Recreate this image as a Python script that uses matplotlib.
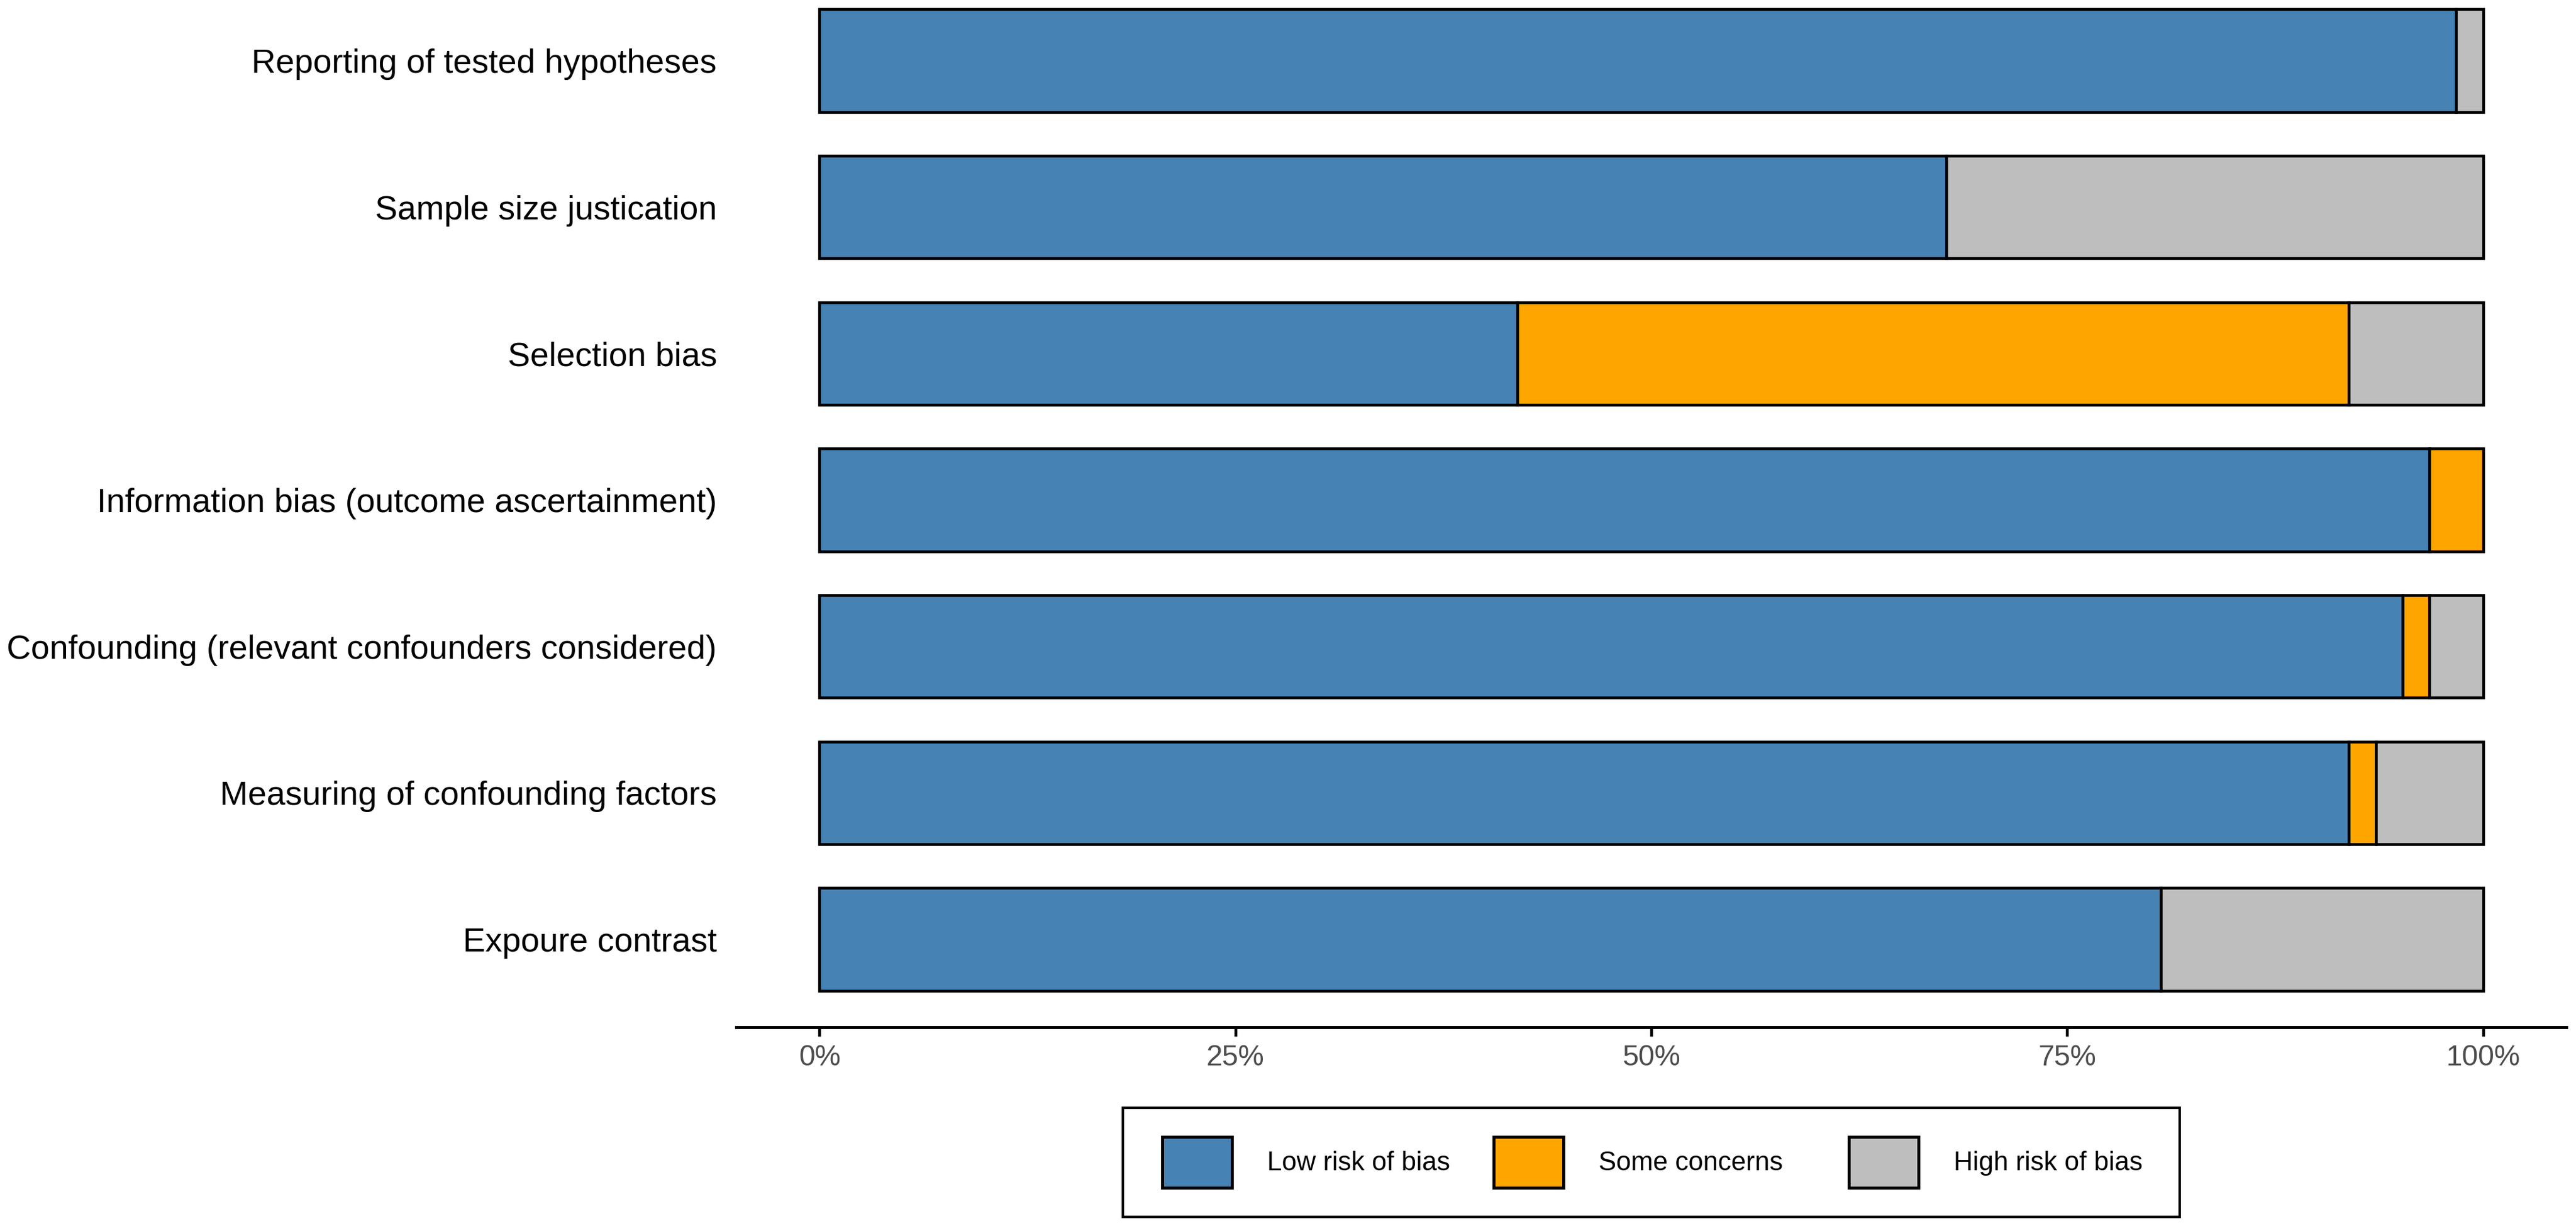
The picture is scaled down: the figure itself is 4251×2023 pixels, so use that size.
import matplotlib
matplotlib.use("Agg")
import matplotlib.pyplot as plt
from matplotlib.patches import Patch, Rectangle
import numpy as np

plt.rcParams['font.family'] = ['Liberation Sans', 'DejaVu Sans']

# ---- data (counts out of 62 studies) ----
domains = [
    "Reporting of tested hypotheses",
    "Sample size justication",
    "Selection bias",
    "Information bias (outcome ascertainment)",
    "Confounding (relevant confounders considered)",
    "Measuring of confounding factors",
    "Expoure contrast",
]
low_risk = [61, 42, 26, 60, 59, 57, 50]
some_concerns = [0, 0, 31, 2, 1, 1, 0]
high_risk = [1, 20, 5, 0, 2, 4, 12]
series_names = ["Low risk of bias", "Some concerns", "High risk of bias"]
series_colors = ["#4682B4", "#FFA500", "#BEBEBE"]
xtick_values = [0, 0.25, 0.5, 0.75, 1.0]
xtick_labels = ["0%", "25%", "50%", "75%", "100%"]

W, H, DPI = 4251, 2023, 300
fig = plt.figure(figsize=(W / DPI, H / DPI), dpi=DPI)
ax = fig.add_axes([1215 / W, 1 - 1695 / H, (4235 - 1215) / W, 1695 / H])

n = len(domains)
ypos = np.arange(n, 0, -1)  # top domain at highest position
data = np.array([low_risk, some_concerns, high_risk], dtype=float)
totals = data.sum(axis=0)
props = data / totals

left = np.zeros(n)
for k in range(3):
    for i in range(n):
        if props[k, i] > 0:
            ax.barh(ypos[i], props[k, i], left=left[i], height=0.7,
                    color=series_colors[k], edgecolor="black", linewidth=1.1,
                    zorder=2)
    left += props[k]

ax.set_xlim(-0.05, 1.05)
ax.set_ylim(0.4, n + 100 / 241.8)

ax.set_yticks(ypos)
ax.set_yticklabels(domains, fontsize=13.3, color="black")
ax.tick_params(axis="y", length=0, pad=7.7)

ax.set_xticks(xtick_values)
ax.set_xticklabels(xtick_labels, fontsize=11.5, color="#4D4D4D")
ax.tick_params(axis="x", length=3.6, width=1.1, pad=3, color="black")

for s in ["top", "right", "left"]:
    ax.spines[s].set_visible(False)
ax.spines["bottom"].set_linewidth(1.2)

# ---- legend ----
fs = 10.5
fs_px = fs * DPI / 72
patch_lefts = [1918, 2465, 3051]
for name, col, px in zip(series_names, series_colors, patch_lefts):
    h = Patch(facecolor=col, edgecolor="black", linewidth=1.2)
    fig.legend([h], [name], loc="center left",
               bbox_to_anchor=(px / W, 1 - 1918 / H),
               frameon=False, borderpad=0, borderaxespad=0,
               fontsize=fs, handlelength=115 / fs_px, handleheight=114 / fs_px,
               handletextpad=58 / fs_px)

frame = Rectangle((1853 / W, 1 - 2008 / H), (3597 - 1853) / W, (2008 - 1828) / H,
                  transform=fig.transFigure, facecolor="none",
                  edgecolor="black", linewidth=1.0)
fig.patches.append(frame)

fig.savefig("out.png", dpi=DPI, facecolor="white")
